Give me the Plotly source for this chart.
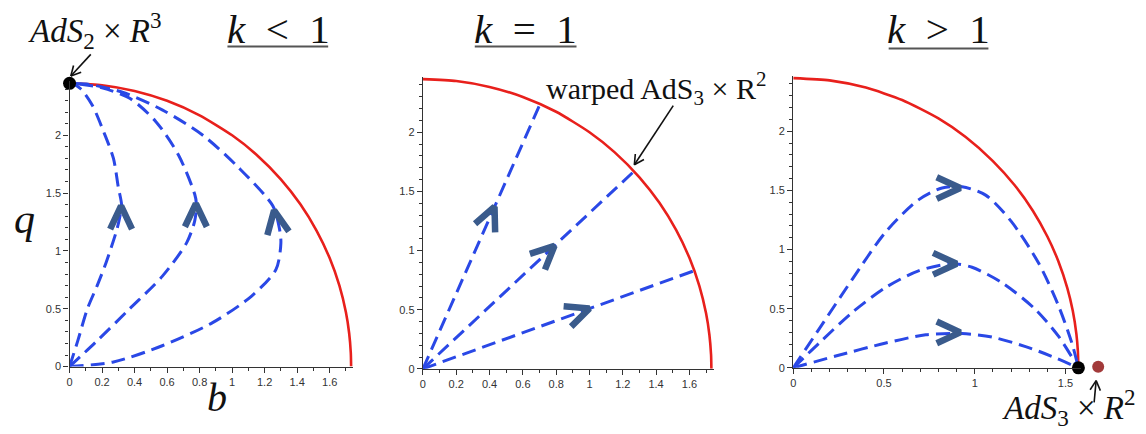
import math
import plotly.graph_objects as go

W, H = 1146, 434
OFF = 8                      # page body margin of the written html
FW, FH = W - OFF, H - OFF    # figure size so that it fits the window

# ---- data ----
# boundary arcs (b, q)
arc12_b = [0, 0.2, 0.4, 0.6, 0.8, 1.0, 1.15, 1.3, 1.42, 1.52, 1.6, 1.66, 1.7, 1.72, 1.73, 1.732]
arc12_q = [2.449, 2.433, 2.383, 2.298, 2.173, 2.0, 1.832, 1.619, 1.403, 1.174, 0.938, 0.699, 0.469, 0.288, 0.119, 0]
arc3_b = [0, 0.2, 0.4, 0.6, 0.8, 0.95, 1.1, 1.22, 1.32, 1.4, 1.46, 1.51, 1.54, 1.56, 1.568, 1.571]
arc3_q = [2.449, 2.43, 2.369, 2.264, 2.108, 1.951, 1.748, 1.543, 1.328, 1.11, 0.903, 0.674, 0.482, 0.285, 0.143, 0]

# k < 1 flows
k1_flows = [
    ([0, 0.05, 0.11, 0.17, 0.225, 0.29, 0.31, 0.32, 0.30, 0.27, 0.21, 0.14, 0.07, 0.02, 0],
     [0, 0.22, 0.5, 0.7, 0.9, 1.18, 1.3, 1.4, 1.55, 1.8, 2.03, 2.26, 2.40, 2.445, 2.449]),
    ([0, 0.16, 0.37, 0.57, 0.72, 0.77, 0.78, 0.77, 0.67, 0.53, 0.37, 0.2, 0.08, 0],
     [0, 0.21, 0.5, 0.78, 1.07, 1.26, 1.41, 1.49, 1.83, 2.12, 2.32, 2.41, 2.44, 2.449]),
    ([0, 0.27, 0.57, 0.88, 1.12, 1.27, 1.30, 1.29, 1.25, 1.04, 0.82, 0.57, 0.33, 0.12, 0],
     [0, 0.04, 0.18, 0.38, 0.61, 0.84, 1.07, 1.2, 1.39, 1.72, 2.0, 2.22, 2.37, 2.44, 2.449]),
]
k1_arrow_b = [0.317, 0.777, 1.258]
k1_arrow_q = [1.39, 1.41, 1.35]
k1_arrow_ang = [90, 90, 100]

# k = 1 flows (straight rays)
k2_end_b = [0.704, 1.26, 1.63]
k2_end_q = [2.24, 1.66, 0.83]
k2_arrow_b = [0.43, 0.79, 1.0]
k2_arrow_q = [1.37, 1.04, 0.51]

# k > 1 flows
k3_flows = [
    ([0, 0.143, 0.326, 0.51, 0.69, 0.82, 0.93, 1.06, 1.2, 1.35, 1.46, 1.535, 1.571],
     [0, 0.33, 0.75, 1.15, 1.42, 1.52, 1.53, 1.46, 1.24, 0.89, 0.53, 0.21, 0]),
    ([0, 0.143, 0.326, 0.51, 0.69, 0.875, 0.985, 1.15, 1.33, 1.46, 1.571],
     [0, 0.21, 0.47, 0.68, 0.82, 0.88, 0.85, 0.72, 0.5, 0.27, 0]),
    ([0, 0.234, 0.51, 0.73, 0.93, 1.095, 1.28, 1.42, 1.571],
     [0, 0.1, 0.21, 0.28, 0.29, 0.26, 0.18, 0.1, 0]),
]
k3_arrow_b = [0.92, 0.90, 0.92]
k3_arrow_q = [1.52, 0.88, 0.30]
k3_arrow_ang = [0, 0, 0]

# fixed points
ads2_b, ads2_q = [0], [2.449]
ads3_b, ads3_q = [1.571], [0]
ads3r2_b, ads3r2_q = [1.68], [0.01]

titles = ["<i>k</i>&#8194;&lt;&#8194;1", "<i>k</i>&#8194;=&#8194;1", "<i>k</i>&#8194;&gt;&#8194;1"]

# ---- layout of the panels (page pixels) ----
panels = [
    dict(left=66.7, bottom=371.7, xr=[0, 1.745], yr=[0, 2.47], sx=163.0, sy=117.3, xd=0.2, xm=0.1),
    dict(left=421.0, bottom=374.0, xr=[0, 1.745], yr=[0, 2.47], sx=167.0, sy=120.0, xd=0.2, xm=0.1),
    dict(left=792.3, bottom=373.0, xr=[0, 1.585], yr=[0, 2.47], sx=182.0, sy=120.0, xd=0.5, xm=0.1),
]

BLUE = "#2a48e6"
RED = "#e8201c"
CHEV = "#3a5b8c"
SERIF = "Liberation Serif"


def px(x):
    return (x - OFF) / FW


def py(y):
    return 1 - (y - OFF) / FH


fig = go.Figure()


def ax_names(i):
    return ("x" if i == 0 else f"x{i+1}"), ("y" if i == 0 else f"y{i+1}")


def dashed(i, b, q):
    xa, ya = ax_names(i)
    fig.add_trace(go.Scatter(x=b, y=q, xaxis=xa, yaxis=ya, mode="lines",
                             line=dict(color=BLUE, width=3, dash="14px,7px", shape="spline", smoothing=0.8),
                             hoverinfo="skip"))


def chevron(i, tb, tq, ang, L=26, half=25):
    p = panels[i]
    xa, ya = ax_names(i)
    bs, qs = [], []
    for s in (half, None, -half):
        if s is None:
            bs.append(tb)
            qs.append(tq)
            continue
        a = math.radians(ang + 180 + s)
        bs.append(tb + L * math.cos(a) / p["sx"])
        qs.append(tq + L * math.sin(a) / p["sy"])
    fig.add_trace(go.Scatter(x=bs, y=qs, xaxis=xa, yaxis=ya, mode="lines",
                             line=dict(color=CHEV, width=6.5), hoverinfo="skip"))


# red boundaries
for i in range(3):
    xa, ya = ax_names(i)
    b, q = (arc3_b, arc3_q) if i == 2 else (arc12_b, arc12_q)
    fig.add_trace(go.Scatter(x=b, y=q, xaxis=xa, yaxis=ya, mode="lines",
                             line=dict(color=RED, width=2.6, shape="spline", smoothing=0.6),
                             hoverinfo="skip"))

# panel 1
for b, q in k1_flows:
    dashed(0, b, q)
for tb, tq, an in zip(k1_arrow_b, k1_arrow_q, k1_arrow_ang):
    chevron(0, tb, tq, an)

# panel 2
for eb, eq in zip(k2_end_b, k2_end_q):
    dashed(1, [0, eb], [0, eq])
for eb, eq, tb, tq in zip(k2_end_b, k2_end_q, k2_arrow_b, k2_arrow_q):
    ang = math.degrees(math.atan2(eq * panels[1]["sy"], eb * panels[1]["sx"]))
    chevron(1, tb, tq, ang)

# panel 3
for b, q in k3_flows:
    dashed(2, b, q)
for tb, tq, an in zip(k3_arrow_b, k3_arrow_q, k3_arrow_ang):
    chevron(2, tb, tq, an)

# fixed points
fig.add_trace(go.Scatter(x=ads2_b, y=ads2_q, mode="markers", cliponaxis=False,
                         marker=dict(color="black", size=13), hoverinfo="skip"))
fig.add_trace(go.Scatter(x=ads3_b, y=ads3_q, xaxis="x3", yaxis="y3", mode="markers", cliponaxis=False,
                         marker=dict(color="black", size=13), hoverinfo="skip"))
# point beyond the drawn b-range: hidden wider axes with the same scale as panel 3
fig.add_trace(go.Scatter(x=ads3r2_b, y=ads3r2_q, xaxis="x4", yaxis="y4", mode="markers", cliponaxis=False,
                         marker=dict(color="#a23a3a", size=12), hoverinfo="skip"))

# axes
layout = {}
for i, p in enumerate(panels):
    right = p["left"] + (p["xr"][1] - p["xr"][0]) * p["sx"]
    top = p["bottom"] - (p["yr"][1] - p["yr"][0]) * p["sy"]
    xk = "xaxis" if i == 0 else f"xaxis{i+1}"
    yk = "yaxis" if i == 0 else f"yaxis{i+1}"
    common = dict(showline=True, linecolor="#333", linewidth=1.4, showgrid=False, zeroline=False,
                  ticks="outside", ticklen=5, tickwidth=1, tickcolor="#333",
                  tickfont=dict(family="Liberation Sans", size=11, color="#333"),
                  fixedrange=True)
    layout[xk] = dict(common, domain=[px(p["left"]), px(right)], range=p["xr"],
                      anchor=ax_names(i)[1], dtick=p["xd"], tick0=0,
                      minor=dict(dtick=p["xm"], ticks="outside", ticklen=3, tickcolor="#333"))
    layout[yk] = dict(common, domain=[py(p["bottom"]), py(top)], range=p["yr"],
                      anchor=ax_names(i)[0], dtick=0.5, tick0=0,
                      minor=dict(dtick=0.1, ticks="outside", ticklen=3, tickcolor="#333"))

p3 = panels[2]
x4r = [0, 1.75]
layout["xaxis4"] = dict(visible=False, domain=[px(p3["left"]), px(p3["left"] + x4r[1] * p3["sx"])],
                        range=x4r, anchor="y4", fixedrange=True)
layout["yaxis4"] = dict(visible=False, domain=layout["yaxis3"]["domain"], range=p3["yr"],
                        anchor="x4", fixedrange=True)

annotations = []
shapes = []


def text(x, y, t, size):
    annotations.append(dict(x=px(x), y=py(y), xref="paper", yref="paper", text=t,
                            showarrow=False, xanchor="center", yanchor="middle",
                            font=dict(family=SERIF, size=size, color="#111")))


def seg(x0, y0, x1, y1, color="#111", width=1.6):
    shapes.append(dict(type="line", xref="paper", yref="paper", x0=px(x0), y0=py(y0),
                       x1=px(x1), y1=py(y1), line=dict(color=color, width=width)))


def pointer(x0, y0, x1, y1, head=11, spread=28):
    seg(x0, y0, x1, y1)
    a0 = math.atan2(y0 - y1, x0 - x1)
    for s in (spread, -spread):
        a = a0 + math.radians(s)
        seg(x1, y1, x1 + head * math.cos(a), y1 + head * math.sin(a))


# titles with underlines
for t, cx, ul in zip(titles, [276, 524, 938], [(225, 326, 47), (473, 575, 47), (888, 988, 49)]):
    text(cx, 29, t, 41)
    seg(ul[0], ul[2], ul[1], ul[2], color="#555", width=2)

text(92, 31, "<i>AdS</i><sub>2</sub> × <i>R</i><sup>3</sup>", 33)
text(655, 90, "warped AdS<sub>3</sub> × R<sup>2</sup>", 30)
text(1069, 413, "<i>AdS</i><sub>3</sub> × <i>R</i><sup>2</sup>", 33)
text(22, 222, "<i>q</i>", 42)
text(215, 403, "<i>b</i>", 40)

pointer(88, 55, 68, 77)
pointer(672, 107, 633, 167)
pointer(1094, 408, 1096, 386)

fig.update_layout(width=FW, height=FH, margin=dict(l=0, r=0, t=0, b=0),
                  paper_bgcolor="white", plot_bgcolor="rgba(0,0,0,0)", showlegend=False,
                  annotations=annotations, shapes=shapes, **layout)

fig.write_html("out.html")
